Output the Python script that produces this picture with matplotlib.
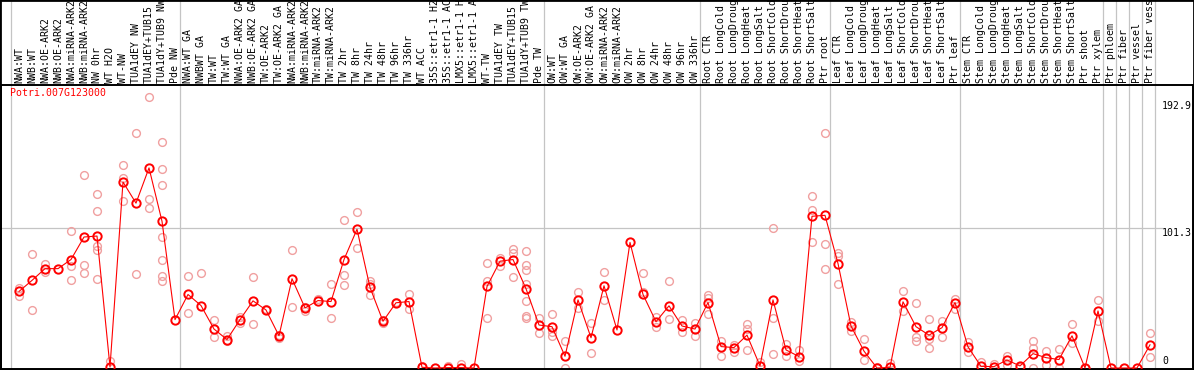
import matplotlib
matplotlib.use("Agg")
import matplotlib.pyplot as plt
from matplotlib.patches import Rectangle

gene = "Potri.007G123000"

labels = [
    "NWA:WT", "NWB:WT", "NWA:OE-ARK2", "NWB:OE-ARK2", "NWA:miRNA-ARK2", "NWB:miRNA-ARK2",
    "NW 0hr", "WT H2O", "WT-NW", "TUA1dEY NW", "TUA1dEY+TUB15", "TUA1dY+TUB9 NW", "Pde NW",
    "NWA:WT GA", "NWBWT GA", "TW:WT", "TW:WT GA", "NWA:OE-ARK2 GA", "NWB:OE-ARK2 GA",
    "TW:OE-ARK2", "TW:OE-ARK2 GA", "NWA:miRNA-ARK2", "NWB:miRNA-ARK2", "TW:miRNA-ARK2",
    "TW:miRNA-ARK2", "TW 2hr", "TW 8hr", "TW 24hr", "TW 48hr", "TW 96hr", "TW 336hr",
    "WT ACC", "35S::etr1-1 H2O", "35S::etr1-1 ACC", "LMX5::etr1-1 H2O", "LMX5::etr1-1 ACC",
    "WT-TW", "TUA1dEY TW", "TUA1dEY+TUB15", "TUA1dY+TUB9 TW", "Pde TW",
    "OW:WT", "OW:WT GA", "OW:OE-ARK2", "OW:OE-ARK2 GA", "OW:miRNA-ARK2", "OW:miRNA-ARK2",
    "OW 2hr", "OW 8hr", "OW 24hr", "OW 48hr", "OW 96hr", "OW 336hr",
    "Root CTR", "Root LongCold", "Root LongDrought", "Root LongHeat", "Root LongSalt",
    "Root ShortCold", "Root ShortDrought", "Root ShortHeat", "Root ShortSalt", "Ptr root",
    "Leaf CTR", "Leaf LongCold", "Leaf LongDrought", "Leaf LongHeat", "Leaf LongSalt",
    "Leaf ShortCold", "Leaf ShortDrought", "Leaf ShortHeat", "Leaf ShortSalt", "Ptr leaf",
    "Stem CTR", "Stem LongCold", "Stem LongDrought", "Stem LongHeat", "Stem LongSalt",
    "Stem ShortCold", "Stem ShortDrought", "Stem ShortHeat", "Stem ShortSalt", "Ptr shoot",
    "Ptr xylem", "Ptr phloem", "Ptr fiber", "Ptr vessel", "Ptr fiber vessel",
]

means = [
    55.4, 63.4, 71.9, 71.9, 78.5, 94.8, 95.5, 0.7, 134.6, 119.3, 144.8, 106.2, 35.0,
    53.2, 45.2, 28.2, 20.6, 35.0, 48.6, 42.0, 23.3, 64.6, 43.5, 48.8, 48.1, 78.5, 100.4,
    58.3, 33.8, 47.2, 48.1, 0.5, 0.0, 0.3, 0.3, 0.0, 59.0, 77.3, 78.5, 57.4, 31.1,
    29.9, 8.5, 49.3, 21.9, 59.5, 27.5, 90.9, 53.2, 33.5, 45.0, 30.4, 28.2,
    47.4, 15.5, 14.8, 23.8, 1.5, 49.3, 13.1, 8.3, 109.8, 110.5,
    75.6, 30.4, 12.2, 0.0, 0.5, 47.9, 29.9, 23.8, 29.2, 47.4,
    15.3, 1.2, 1.0, 5.8, 1.5, 10.4, 7.5, 6.1, 23.3, 0.0, 41.3,
    0.0, 0.0, 0.0, 16.8,
]

replicates = [
    [57.8, 52.0], [82.4, 42.3], [75.1, 69.5], [], [99.1, 73.8, 63.9], [139.7, 74.8, 69.0],
    [125.9, 113.7, 88.4, 85.3, 64.6], [5.1], [147.0, 137.2, 121.0], [170.3, 67.8],
    [195.8, 122.2, 115.7], [163.8, 144.1, 132.4, 94.8, 77.8, 66.5, 62.9], [],
    [66.3, 39.9], [68.5], [35.0, 22.4], [23.3, 19.2], [36.7, 32.6], [65.6, 32.1], [42.8],
    [23.8, 21.4], [85.3, 44.5], [44.5, 41.5], [49.6], [60.5, 36.2], [106.9, 67.6, 59.8],
    [112.8, 86.5], [62.9, 61.0, 52.5], [34.7, 32.3], [48.1], [53.2, 42.5], [1.5], [],
    [1.2], [2.7], [], [76.3, 62.9, 36.2], [79.7, 73.6], [86.0, 83.3, 65.6],
    [85.0, 74.3, 70.7, 61.0, 48.8, 37.9, 36.2], [36.2, 25.3],
    [39.1, 25.7, 23.3], [19.7, 0.0], [54.7, 43.5], [32.6, 10.7], [69.7, 49.3], [], [],
    [69.0, 54.9], [36.7, 29.9], [63.2, 35.5], [34.7, 25.7], [32.6, 22.8],
    [52.7, 50.8, 39.1], [19.7, 8.5], [16.8, 11.4], [32.1, 28.2, 12.9], [4.6],
    [101.3, 36.2, 10.0], [17.3, 8.7], [13.1, 5.1], [124.4, 114.7, 90.9], [170.3, 89.6, 71.9],
    [83.3, 81.1, 61.0], [33.3, 27.0], [21.1, 5.6], [0.7], [3.9], [55.4, 41.5],
    [47.2, 22.1, 19.7], [35.5, 20.9, 14.8], [33.7, 22.1], [49.6, 42.8],
    [19.0, 11.9], [4.4], [3.2], [8.7, 2.0], [1.0], [19.7, 14.8, 0.0], [12.2, 2.0],
    [13.6, 0.0], [31.8, 18.0], [0.0], [49.3, 34.3],
    [], [], [], [25.3, 8.2],
]

# last column index of each group (vertical separators)
group_ends = [0, 13, 41, 53, 63, 73, 84, 85, 86, 87, 88]
ref_ticks = [0, 101.3, 192.9]

W, H = 1194, 370
fig = plt.figure(figsize=(W / 100, H / 100), dpi=100)
ax = fig.add_axes([1 / W, 1 / H, 1192 / W, 284 / H])

x = list(range(1, len(means) + 1))
ax.set_xlim(1 + (1 - 19) / 13, 1 + (1193 - 19) / 13)
ax.set_ylim(-0.72, 204.8)
ax.set_xticks([])
ax.set_yticks([])
for s in ax.spines.values():
    s.set_color("black")
    s.set_linewidth(1.4)

mono = "DejaVu Sans Mono"
fs = 7.1

# separators running through the label band as well
top_ext = 369 / 284
for g in group_ends:
    ax.axvline(g + 0.4, ymin=0, ymax=top_ext, color="#c4c4c4", lw=0.9,
               clip_on=False, zorder=0)
ax.plot([ax.get_xlim()[0], 88.9], [101.3, 101.3], color="#c4c4c4", lw=0.9, zorder=0)

for i, reps in enumerate(replicates):
    ax.plot([x[i]] * len(reps), reps, "o", ms=5.6, mfc="none", mec="#f0a0a0",
            mew=1.0, zorder=2)

ax.plot(x, means, "-", color="red", lw=0.8, zorder=3)
ax.plot(x, means, "o", ms=6.0, mfc="none", mec="red", mew=1.4, zorder=4)

tr = ax.get_xaxis_transform()
for xi, lab in zip(x, labels):
    ax.text(xi, 1 + 2 / 284, lab, rotation=90, ha="center", va="bottom",
            fontsize=fs, family=mono, transform=tr, clip_on=False)

ax.text(10 / 13 + 1 + (1 - 19) / 13 - 0.75 / 13, 0.99, gene, color="red",
        fontsize=fs, family=mono, transform=tr, va="top", ha="left")

x_lab = 1 + (1162 - 19) / 13
ax.text(x_lab, 192.9, "192.9", fontsize=fs, family=mono, va="top", ha="left")
ax.text(x_lab, 101.3, "101.3", fontsize=fs, family=mono, va="top", ha="left")
ax.text(x_lab, 1.5, "0", fontsize=fs, family=mono, va="bottom", ha="left")

fig.patches.append(Rectangle((0, 0), 1, 1, transform=fig.transFigure, fill=False,
                             edgecolor="black", lw=2, zorder=10))

fig.savefig("out.png", dpi=100)
